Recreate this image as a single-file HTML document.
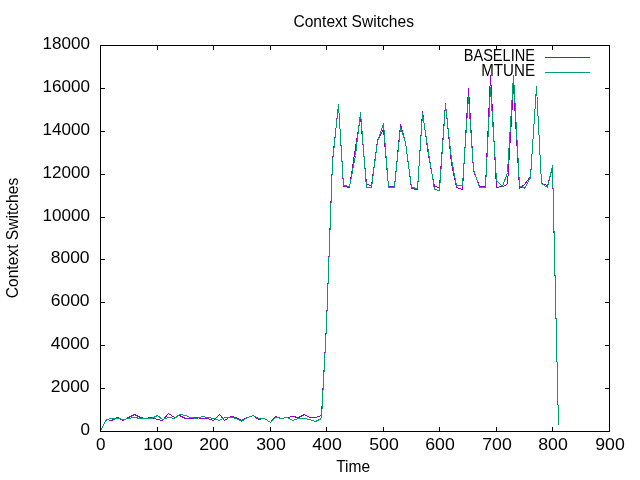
<!DOCTYPE html>
<html lang="en"><head><meta charset="utf-8"><title>Context Switches</title>
<style>
html,body{margin:0;padding:0;background:#fff;}
body{width:640px;height:480px;overflow:hidden;}
svg{display:block;will-change:transform;}
text{font-family:"Liberation Sans", sans-serif;fill:#000;}
.num{font-size:16.5px;}
.lbl{font-size:16.5px;}
</style></head><body>
<svg width="640" height="480" viewBox="0 0 640 480">
<rect width="640" height="480" fill="#fff"/>
<path d="M157.5 432V427M157.5 45V50M213.5 432V427M213.5 45V50M270.5 432V427M270.5 45V50M326.5 432V427M326.5 45V50M383.5 432V427M383.5 45V50M439.5 432V427M439.5 45V50M496.5 432V427M496.5 45V50M552.5 432V427M552.5 45V50M100 388.5H105M610 388.5H605M100 345.5H105M610 345.5H605M100 302.5H105M610 302.5H605M100 259.5H105M610 259.5H605M100 217.5H105M610 217.5H605M100 174.5H105M610 174.5H605M100 131.5H105M610 131.5H605M100 88.5H105M610 88.5H605" stroke="#000" stroke-width="1" fill="none" shape-rendering="crispEdges"/>
<text class="num" x="89.9" y="435.1" text-anchor="end" textLength="9.5" lengthAdjust="spacingAndGlyphs">0</text>
<text class="num" x="89.6" y="392.1" text-anchor="end" textLength="38.88" lengthAdjust="spacingAndGlyphs">2000</text>
<text class="num" x="89.6" y="349.1" text-anchor="end" textLength="38.88" lengthAdjust="spacingAndGlyphs">4000</text>
<text class="num" x="89.6" y="306.1" text-anchor="end" textLength="38.88" lengthAdjust="spacingAndGlyphs">6000</text>
<text class="num" x="89.6" y="263.1" text-anchor="end" textLength="38.88" lengthAdjust="spacingAndGlyphs">8000</text>
<text class="num" x="89.9" y="221.1" text-anchor="end" textLength="47.5" lengthAdjust="spacingAndGlyphs">10000</text>
<text class="num" x="89.9" y="178.1" text-anchor="end" textLength="47.5" lengthAdjust="spacingAndGlyphs">12000</text>
<text class="num" x="89.9" y="135.1" text-anchor="end" textLength="47.5" lengthAdjust="spacingAndGlyphs">14000</text>
<text class="num" x="89.9" y="92.1" text-anchor="end" textLength="47.5" lengthAdjust="spacingAndGlyphs">16000</text>
<text class="num" x="89.9" y="49.1" text-anchor="end" textLength="47.5" lengthAdjust="spacingAndGlyphs">18000</text>
<text class="num" x="100.7" y="450" text-anchor="middle" textLength="9.5" lengthAdjust="spacingAndGlyphs">0</text>
<text class="num" x="158.0" y="450" text-anchor="middle" textLength="29.55" lengthAdjust="spacingAndGlyphs">100</text>
<text class="num" x="214.0" y="450" text-anchor="middle" textLength="29.55" lengthAdjust="spacingAndGlyphs">200</text>
<text class="num" x="271.0" y="450" text-anchor="middle" textLength="29.55" lengthAdjust="spacingAndGlyphs">300</text>
<text class="num" x="327.0" y="450" text-anchor="middle" textLength="29.55" lengthAdjust="spacingAndGlyphs">400</text>
<text class="num" x="384.0" y="450" text-anchor="middle" textLength="29.55" lengthAdjust="spacingAndGlyphs">500</text>
<text class="num" x="440.0" y="450" text-anchor="middle" textLength="29.55" lengthAdjust="spacingAndGlyphs">600</text>
<text class="num" x="497.0" y="450" text-anchor="middle" textLength="29.55" lengthAdjust="spacingAndGlyphs">700</text>
<text class="num" x="553.0" y="450" text-anchor="middle" textLength="29.55" lengthAdjust="spacingAndGlyphs">800</text>
<text class="num" x="610.0" y="450" text-anchor="middle" textLength="29.55" lengthAdjust="spacingAndGlyphs">900</text>
<text class="lbl" x="353.7" y="27" text-anchor="middle" textLength="120.5" lengthAdjust="spacingAndGlyphs">Context Switches</text>
<text class="lbl" x="353.2" y="471.7" text-anchor="middle" textLength="34" lengthAdjust="spacingAndGlyphs">Time</text>
<text class="lbl" transform="translate(18.3 238) rotate(-90)" text-anchor="middle" textLength="120.5" lengthAdjust="spacingAndGlyphs">Context Switches</text>
<path d="M100.5 430.5 L106.5 419.5 L111.5 420.5 L117.5 417.5 L123.5 420.5 L128.5 417.5 L134.5 414.5 L140.5 417.5 L145.5 418.5 L151.5 417.5 L157.5 419.5 L162.5 420.5 L168.5 413.5 L174.5 417.5 L179.5 415.5 L185.5 418.5 L190.5 418.5 L196.5 417.5 L202.5 418.5 L207.5 418.5 L213.5 420.5 L219.5 414.5 L224.5 420.5 L230.5 416.5 L236.5 417.5 L241.5 420.5 L247.5 417.5 L253.5 415.5 L258.5 419.5 L264.5 418.5 L270.5 422.5 L275.5 416.5 L281.5 418.5 L287.5 417.5 L292.5 416.5 L298.5 417.5 L304.5 414.5 L309.5 417.5 L315.5 417.5 L321.5 415.5 L326.5 324.5 L332.5 160.5 L338.5 104.5 L343.5 186.5 L349.5 187.5 L355.5 147.5 L360.5 116.5 L366.5 184.5 L371.5 185.5 L377.5 140.5 L383.5 129.5 L388.5 186.5 L394.5 186.5 L400.5 124.5 L405.5 142.5 L411.5 188.5 L417.5 189.5 L422.5 111.5 L428.5 155.5 L434.5 186.5 L439.5 187.5 L445.5 103.5 L451.5 163.5 L456.5 187.5 L462.5 189.5 L468.5 88.5 L473.5 170.5 L479.5 186.5 L485.5 186.5 L490.5 75.5 L496.5 187.5 L502.5 186.5 L507.5 184.5 L513.5 85.5 L519.5 188.5 L524.5 184.5 L530.5 176.5 L536.5 86.5 L541.5 183.5 L547.5 185.5 L552.5 167.5 L558.5 425.5" stroke="#9400d3" stroke-width="1" fill="none" stroke-linejoin="miter" shape-rendering="crispEdges"/>
<path d="M100.5 430.5 L106.5 419.5 L111.5 418.5 L117.5 418.5 L123.5 419.5 L128.5 418.5 L134.5 417.5 L140.5 418.5 L145.5 418.5 L151.5 418.5 L157.5 415.5 L162.5 419.5 L168.5 417.5 L174.5 418.5 L179.5 414.5 L185.5 415.5 L190.5 417.5 L196.5 418.5 L202.5 416.5 L207.5 417.5 L213.5 418.5 L219.5 420.5 L224.5 417.5 L230.5 417.5 L236.5 418.5 L241.5 421.5 L247.5 417.5 L253.5 415.5 L258.5 418.5 L264.5 418.5 L270.5 422.5 L275.5 417.5 L281.5 418.5 L287.5 417.5 L292.5 420.5 L298.5 418.5 L304.5 418.5 L309.5 419.5 L315.5 421.5 L321.5 418.5 L326.5 325.5 L332.5 162.5 L338.5 104.5 L343.5 185.5 L349.5 186.5 L355.5 155.5 L360.5 112.5 L366.5 187.5 L371.5 187.5 L377.5 141.5 L383.5 123.5 L388.5 187.5 L394.5 187.5 L400.5 127.5 L405.5 142.5 L411.5 187.5 L417.5 188.5 L422.5 113.5 L428.5 152.5 L434.5 189.5 L439.5 190.5 L445.5 104.5 L451.5 159.5 L456.5 185.5 L462.5 185.5 L468.5 96.5 L473.5 169.5 L479.5 187.5 L485.5 187.5 L490.5 87.5 L496.5 180.5 L502.5 186.5 L507.5 172.5 L513.5 75.5 L519.5 185.5 L524.5 188.5 L530.5 177.5 L536.5 86.5 L541.5 183.5 L547.5 187.5 L552.5 165.5 L558.5 425.5" stroke="#009e73" stroke-width="1" fill="none" stroke-linejoin="miter" shape-rendering="crispEdges"/>
<text class="lbl" x="535" y="61.2" text-anchor="end" textLength="71.3" lengthAdjust="spacingAndGlyphs">BASELINE</text>
<text class="lbl" x="535" y="76.2" text-anchor="end" textLength="53.8" lengthAdjust="spacingAndGlyphs">MTUNE</text>
<path d="M545 57.5H590" stroke="#9400d3" stroke-width="1" fill="none" shape-rendering="crispEdges"/>
<path d="M545 72.5H590" stroke="#009e73" stroke-width="1" fill="none" shape-rendering="crispEdges"/>
<rect x="100.5" y="45.5" width="509" height="386" stroke="#000" stroke-width="1" fill="none" shape-rendering="crispEdges"/>
</svg>
</body></html>
